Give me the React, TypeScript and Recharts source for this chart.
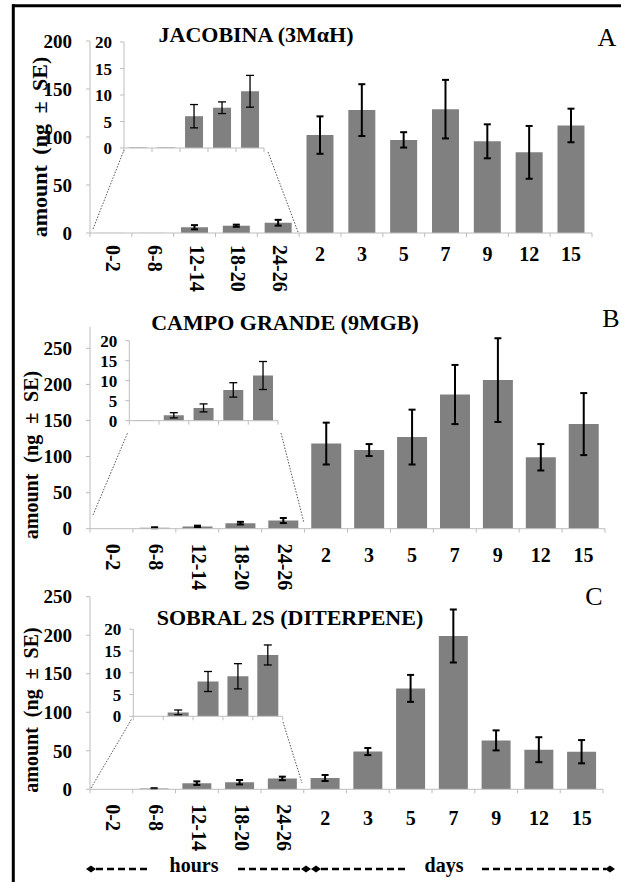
import React from 'react';
import { BarChart, Bar, XAxis, YAxis, ErrorBar } from 'recharts';

const FONT = "'Liberation Serif', 'Times New Roman', serif";
const W = 621;
const H = 882;
const AXIS = '#bdbdbd';
const BAR = '#808080';

// ---------- data ----------
const hourLabels = ['0-2', '6-8', '12-14', '18-20', '24-26'];
const dayLabels = ['2', '3', '5', '7', '9', '12', '15'];

const jacobinaHours = [0.1, 0.1, 6.0, 7.6, 10.7];
const jacobinaHoursSE = [null, null, 2.2, 1.1, 3.0];
const jacobinaDays = [102, 128, 97, 129, 95.5, 84, 112];
const jacobinaDaysSE = [19.5, 27, 8, 30.5, 17.7, 27.5, 17.5];

const campoHours = [0.1, 1.35, 3.2, 7.7, 11.3];
const campoHoursSE = [null, 0.65, 1.0, 1.8, 3.5];
const campoDays = [118, 109, 127, 186, 206, 99, 145];
const campoDaysSE = [29, 8.3, 38, 41, 58, 18.3, 43];

const sobralHours = [0, 0.9, 8.0, 9.2, 14.1];
const sobralHoursSE = [null, 0.55, 2.3, 2.9, 2.3];
const sobralDays = [14.7, 49, 131, 199, 63.5, 51.4, 48.8];
const sobralDaysSE = [3.9, 4.6, 17.5, 34.4, 13, 16.2, 15.1];

const mainTicksA = [0, 50, 100, 150, 200];
const mainTicksBC = [0, 50, 100, 150, 200, 250];
const insetTicks = [0, 5, 10, 15, 20];

// ---------- layout ----------
const panels = [
  {
    title: 'JACOBINA (3MαH)', letter: 'A',
    hours: jacobinaHours, hoursSE: jacobinaHoursSE, days: jacobinaDays, daysSE: jacobinaDaysSE,
    yMax: 200, ticks: mainTicksA, plotTop: 41, zeroY: 233, plotRight: 592, gap: '17.5%',
    hourOff: 12, dayOff: 28,
    inset: { left: 124, right: 264, top: 42, zero: 148, gap: '18%' },
    titlePos: { x: 256, y: 42 }, letterPos: { x: 607, y: 46 },
    ylabel: { x: 47, y: 147, size: 22, ws: 5 },
    conn: { l: [93, 229, 124, 150], r: [268, 152, 298, 232] },
  },
  {
    title: 'CAMPO GRANDE (9MGB)', letter: 'B',
    hours: campoHours, hoursSE: campoHoursSE, days: campoDays, daysSE: campoDaysSE,
    yMax: 280, ticks: mainTicksBC, plotTop: 326.7, zeroY: 528.7, plotRight: 605, gap: '15.5%',
    hourOff: 15, dayOff: 33,
    inset: { left: 129.3, right: 278, top: 340.7, zero: 420.7, gap: '16%' },
    titlePos: { x: 285, y: 330 }, letterPos: { x: 611, y: 327 },
    ylabel: { x: 38, y: 455, size: 20, ws: 6 },
    conn: { l: [93, 515, 128, 432], r: [281, 433, 304, 523] },
  },
  {
    title: 'SOBRAL 2S (DITERPENE)', letter: 'C',
    hours: sobralHours, hoursSE: sobralHoursSE, days: sobralDays, daysSE: sobralDaysSE,
    yMax: 250, ticks: mainTicksBC, plotTop: 596.7, zeroY: 789.3, plotRight: 603, gap: '16%',
    hourOff: 15, dayOff: 36,
    inset: { left: 133.3, right: 282.7, top: 629.3, zero: 716.3, gap: '15%' },
    titlePos: { x: 290, y: 625 }, letterPos: { x: 594, y: 605 },
    ylabel: { x: 38, y: 710, size: 20, ws: 5 },
    conn: { l: [91, 788, 131.7, 719], r: [283, 722, 302, 783] },
  },
];

const boldText = { fontFamily: FONT, fontWeight: 'bold', fill: '#000' } as const;

function makeMainTick(band: number, hourOff: number, dayOff: number, n: number) {
  return (props: any) => {
    const { x, y, payload, index } = props;
    const isHour = index < hourLabels.length;
    const bx = x - band / 2;
    return (
      <g>
        <line x1={bx} x2={bx} y1={y} y2={y + 4} stroke={AXIS} />
        {index === n - 1 && <line x1={x + band / 2} x2={x + band / 2} y1={y} y2={y + 4} stroke={AXIS} />}
        {isHour ? (
          <text
            x={x + 2}
            y={y + hourOff}
            transform={`rotate(90 ${x + 2} ${y + hourOff})`}
            dy="0.35em"
            textAnchor="start"
            style={{ ...boldText, fontSize: 20 }}
          >
            {payload.value}
          </text>
        ) : (
          <text x={x} y={y + dayOff} textAnchor="middle" style={{ ...boldText, fontSize: 20 }}>
            {payload.value}
          </text>
        )}
      </g>
    );
  };
}

function makeInsetTick(band: number, n: number) {
  return (props: any) => {
    const { x, y, index } = props;
    return (
      <g>
        <line x1={x - band / 2} x2={x - band / 2} y1={y} y2={y + 4} stroke={AXIS} />
        {index === n - 1 && <line x1={x + band / 2} x2={x + band / 2} y1={y} y2={y + 4} stroke={AXIS} />}
      </g>
    );
  };
}

function MainChart({ p }: { p: any }) {
  const cats = [...hourLabels, ...dayLabels];
  const data = cats.map((cat, i) => ({
    cat,
    value: i < hourLabels.length ? p.hours[i] : p.days[i - hourLabels.length],
    se: i < hourLabels.length ? p.hoursSE[i] : p.daysSE[i - hourLabels.length],
  }));
  const plotLeft = 90;
  const band = (p.plotRight - plotLeft) / cats.length;
  return (
    <div style={{ position: 'absolute', left: 0, top: 0 }}>
      <BarChart
        width={W}
        height={H}
        data={data}
        margin={{ top: p.plotTop, right: W - p.plotRight, bottom: 0, left: 0 }}
        barCategoryGap={p.gap}
      >
        <XAxis
          dataKey="cat"
          height={H - p.zeroY}
          interval={0}
          tickSize={0}
          tickMargin={0}
          tickLine={false}
          axisLine={{ stroke: AXIS }}
          tick={makeMainTick(band, p.hourOff, p.dayOff, cats.length)}
        />
        <YAxis
          width={plotLeft}
          domain={[0, p.yMax]}
          ticks={p.ticks}
          allowDataOverflow
          interval={0}
          tickSize={4}
          tickMargin={14}
          axisLine={{ stroke: AXIS }}
          tickLine={{ stroke: AXIS }}
          tick={{ ...boldText, fontSize: 19 }}
        />
        <Bar dataKey="value" fill={BAR} isAnimationActive={false}>
          <ErrorBar dataKey="se" width={3.5} strokeWidth={2} stroke="#000" direction="y" isAnimationActive={false} />
        </Bar>
      </BarChart>
    </div>
  );
}

function InsetChart({ p }: { p: any }) {
  const ins = p.inset;
  const data = hourLabels.map((cat, i) => ({ cat, value: p.hours[i], se: p.hoursSE[i] }));
  const band = (ins.right - ins.left) / hourLabels.length;
  return (
    <div style={{ position: 'absolute', left: 0, top: 0 }}>
      <BarChart
        width={W}
        height={H}
        data={data}
        margin={{ top: ins.top, right: W - ins.right, bottom: 0, left: 0 }}
        barCategoryGap={ins.gap}
      >
        <XAxis
          dataKey="cat"
          height={H - ins.zero}
          interval={0}
          tickSize={0}
          tickMargin={0}
          tickLine={false}
          axisLine={{ stroke: AXIS }}
          tick={makeInsetTick(band, hourLabels.length)}
        />
        <YAxis
          width={ins.left}
          domain={[0, 20]}
          ticks={insetTicks}
          allowDataOverflow
          interval={0}
          tickSize={4}
          tickMargin={8}
          axisLine={{ stroke: AXIS }}
          tickLine={{ stroke: AXIS }}
          tick={{ ...boldText, fontSize: 17 }}
        />
        <Bar dataKey="value" fill={BAR} isAnimationActive={false}>
          <ErrorBar dataKey="se" width={4} strokeWidth={1.3} stroke="#000" direction="y" isAnimationActive={false} />
        </Bar>
      </BarChart>
    </div>
  );
}

function Diamond({ x, y }: { x: number; y: number }) {
  return <polygon points={`${x - 5},${y} ${x},${y - 3.5} ${x + 5},${y} ${x},${y + 3.5}`} fill="#000" />;
}

function Overlay() {
  const ay = 869;
  const dash = { stroke: '#000', strokeWidth: 2.5, strokeDasharray: '7 4' };
  return (
    <svg width={W} height={H} style={{ position: 'absolute', left: 0, top: 0, pointerEvents: 'none' }}>
      <line x1={12} y1={5.7} x2={W} y2={5.7} stroke="#000" strokeWidth={3} />
      <line x1={13.3} y1={4.2} x2={13.3} y2={H} stroke="#000" strokeWidth={3} />
      {panels.map((p) => (
        <g key={p.letter}>
          <text x={p.titlePos.x} y={p.titlePos.y} textAnchor="middle" style={{ ...boldText, fontSize: 22 }}>
            {p.title}
          </text>
          <text x={p.letterPos.x} y={p.letterPos.y} textAnchor="middle" style={{ fontFamily: FONT, fontSize: 26, fill: '#000' }}>
            {p.letter}
          </text>
          <text
            x={p.ylabel.x}
            y={p.ylabel.y}
            transform={`rotate(-90 ${p.ylabel.x} ${p.ylabel.y})`}
            textAnchor="middle"
            style={{ ...boldText, fontSize: p.ylabel.size, wordSpacing: p.ylabel.ws }}
          >
            amount (ng ± SE)
          </text>
          <line x1={p.conn.l[0]} y1={p.conn.l[1]} x2={p.conn.l[2]} y2={p.conn.l[3]} stroke="#555" strokeWidth={1} strokeDasharray="1.5 1.5" />
          <line x1={p.conn.r[0]} y1={p.conn.r[1]} x2={p.conn.r[2]} y2={p.conn.r[3]} stroke="#555" strokeWidth={1} strokeDasharray="1.5 1.5" />
        </g>
      ))}
      <Diamond x={91} y={ay} />
      <line x1={96} y1={ay} x2={149} y2={ay} {...dash} />
      <text x={194} y={872} textAnchor="middle" style={{ ...boldText, fontSize: 20 }}>hours</text>
      <line x1={238} y1={ay} x2={302} y2={ay} {...dash} />
      <Diamond x={306} y={ay} />
      <Diamond x={316} y={ay} />
      <line x1={321} y1={ay} x2={407} y2={ay} {...dash} />
      <text x={444} y={872} textAnchor="middle" style={{ ...boldText, fontSize: 20 }}>days</text>
      <line x1={482} y1={ay} x2={606} y2={ay} {...dash} />
      <Diamond x={610} y={ay} />
    </svg>
  );
}

export default function App() {
  return (
    <div style={{ position: 'absolute', left: 0, top: 0, width: W, height: H, background: '#fff', overflow: 'hidden' }}>
      {panels.map((p) => (
        <MainChart key={'m' + p.letter} p={p} />
      ))}
      {panels.map((p) => (
        <InsetChart key={'i' + p.letter} p={p} />
      ))}
      <Overlay />
    </div>
  );
}
